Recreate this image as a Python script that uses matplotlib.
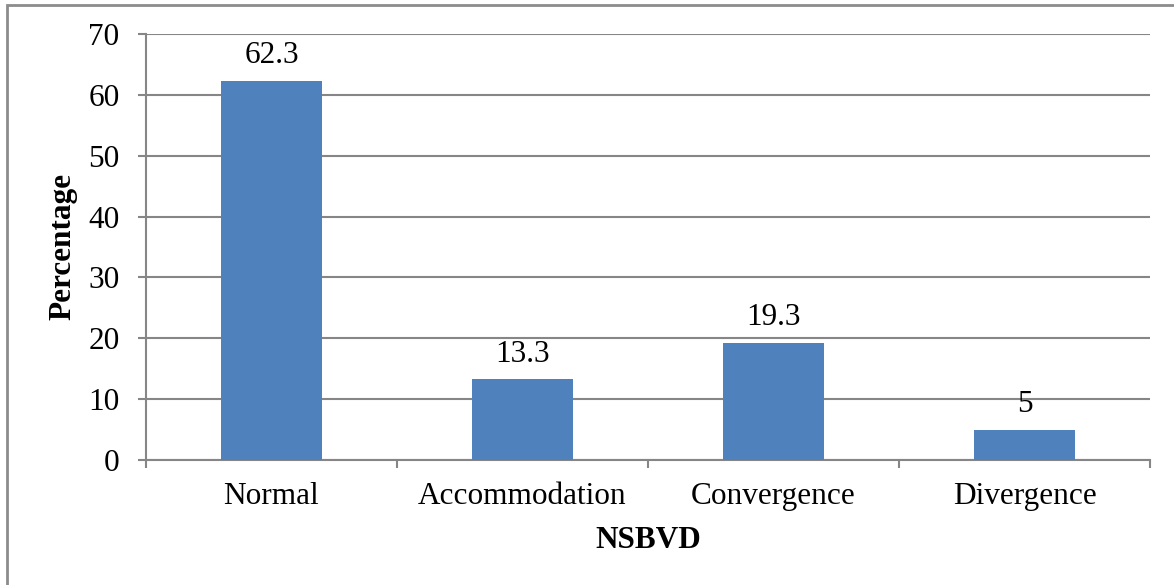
import matplotlib.pyplot as plt
import numpy as np
from matplotlib.patches import Rectangle

categories = ['Normal', 'Accommodation', 'Convergence', 'Divergence']
percentages = [62.3, 13.3, 19.3, 5]
value_labels = ['62.3', '13.3', '19.3', '5']

plt.rcParams['font.family'] = ['Liberation Serif', 'DejaVu Serif']
fs = 22.5

fig = plt.figure(figsize=(11.74, 5.85), dpi=100)
ax = fig.add_axes([146 / 1174, 1 - 460 / 585, 1004 / 1174, 426 / 585])

# outer chart border
fig.patches.append(Rectangle((7 / 1174, -0.05), 1.2, 1 - 5 / 585 + 0.05,
                             transform=fig.transFigure, fill=False,
                             edgecolor='#8c8c8c', linewidth=2))

x = np.arange(len(categories))
bars = ax.bar(x, percentages, width=0.4, color='#4f81bd', zorder=3)

for xi, v, lab in zip(x, percentages, value_labels):
    ax.annotate(lab, (xi, v), xytext=(0, 18), textcoords='offset points',
                ha='center', va='center', fontsize=fs)

ax.set_xlim(-0.5, len(categories) - 0.5)
ax.set_ylim(0, 70)
ax.set_yticks(range(0, 71, 10))
ax.yaxis.grid(True, color='#868686', linewidth=1.5, zorder=0)

ax.set_xticks(x)
ax.set_xticklabels(categories)
ax.set_xticks(np.arange(-0.5, len(categories), 1), minor=True)
ax.tick_params(axis='x', which='major', length=0, pad=16, labelsize=fs)
ax.tick_params(axis='x', which='minor', length=6, width=1.5, color='#868686')
ax.tick_params(axis='y', length=6, width=1.5, color='#868686', pad=13, labelsize=fs)

for side in ['top', 'right']:
    ax.spines[side].set_visible(False)
for side in ['left', 'bottom']:
    ax.spines[side].set_color('#868686')
    ax.spines[side].set_linewidth(1.5)

ax.set_xlabel('NSBVD', fontsize=fs, fontweight='bold', labelpad=11)
ax.set_ylabel('Percentage', fontsize=fs, fontweight='bold', labelpad=8)

fig.savefig('out.png', dpi=100)
